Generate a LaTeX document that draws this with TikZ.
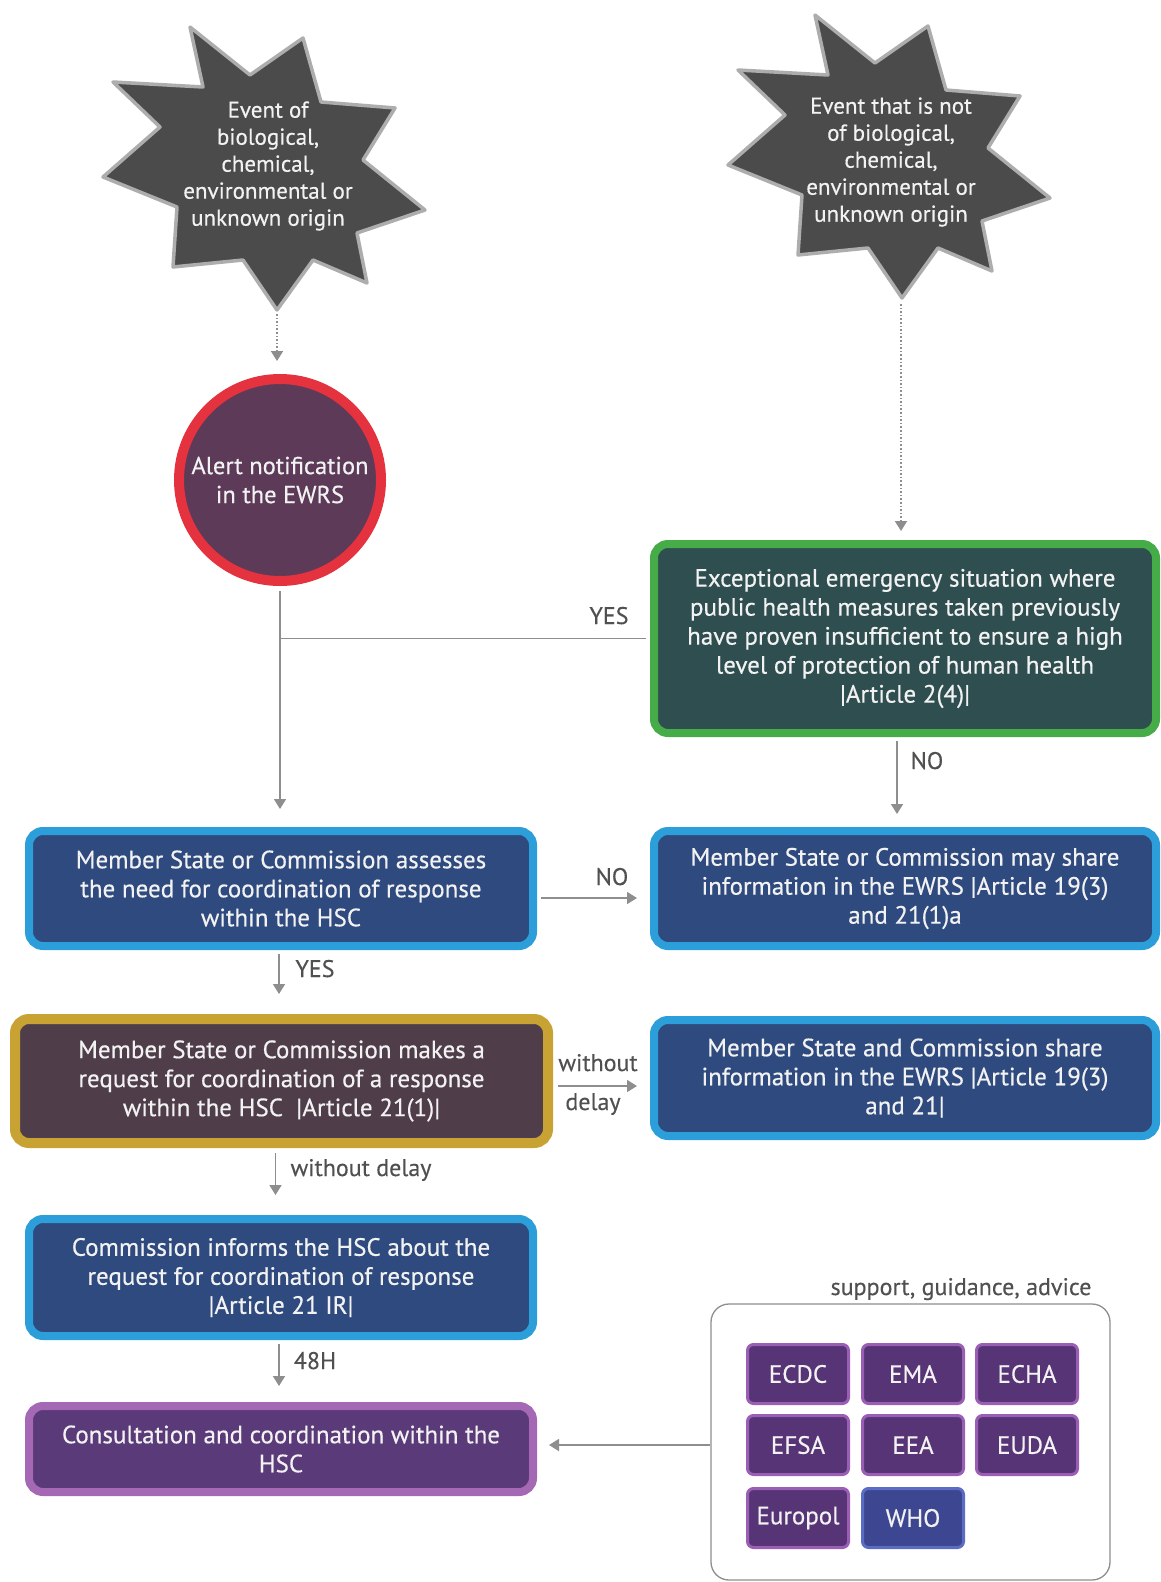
\documentclass[tikz,border=0pt]{standalone}
\usepackage{fontspec}
\setmainfont{PT Sans}
\newfontfamily\boxfont{PT Sans}[FakeBold=0.45]
\newfontfamily\lblfont{PT Sans}[FakeBold=0.25]
\usetikzlibrary{arrows.meta,calc}

\definecolor{starfill}{HTML}{4B4B4B}
\definecolor{starline}{HTML}{ADADAD}
\definecolor{circfill}{HTML}{5C3A58}
\definecolor{circline}{HTML}{E4323E}
\definecolor{grnfill}{HTML}{2F4E50}
\definecolor{grnline}{HTML}{45AC48}
\definecolor{bluefill}{HTML}{2F4A7E}
\definecolor{blueline}{HTML}{2C9FDA}
\definecolor{goldfill}{HTML}{4F3E4A}
\definecolor{goldline}{HTML}{C8A233}
\definecolor{purpfill}{HTML}{5A3A78}
\definecolor{purpline}{HTML}{A468B5}
\definecolor{agfill}{HTML}{573476}
\definecolor{agline}{HTML}{9A5FB5}
\definecolor{whofill}{HTML}{3D4690}
\definecolor{wholine}{HTML}{5A6CC4}
\definecolor{conncol}{HTML}{8E8E8E}
\definecolor{lblcol}{HTML}{505050}
\definecolor{txtcol}{HTML}{F2F2F2}

\tikzset{
  flowbox/.style={rounded corners=14pt, line width=8pt, align=center,
    text=txtcol, inner sep=0pt, font=\boxfont\fontsize{25}{29}\selectfont},
  bluebox/.style={flowbox, draw=blueline, fill=bluefill},
  greenbox/.style={flowbox, draw=grnline, fill=grnfill},
  goldbox/.style={flowbox, line width=10pt, draw=goldline, fill=goldfill},
  purplebox/.style={flowbox, draw=purpline, fill=purpfill},
  agency/.style={rounded corners=6pt, line width=3pt, draw=agline, fill=agfill,
    text=txtcol, minimum width=101pt, minimum height=59pt, inner sep=0pt,
    font=\boxfont\fontsize{25}{29}\selectfont},
  burst/.style={draw=starline, fill=starfill, line width=3.5pt, line join=round},
  bursttext/.style={align=center, text=txtcol, font=\boxfont\fontsize{23}{27}\selectfont},
  lbl/.style={text=lblcol, font=\lblfont\fontsize{24}{28}\selectfont, inner sep=0pt},
  conn/.style={draw=conncol, line width=1.6pt},
  arr/.style={conn, -{Triangle[width=12pt,length=10pt]}},
  dotarr/.style={arr, dotted, line width=1.8pt},
}

% nine-pointed burst outline around the origin (pixels, y downwards)
\newcommand\burstpath{(-75,-143) -- (-15,-95) -- (38,-132) -- (56,-68) -- (130,-62)
  -- (98,-10) -- (160,40) -- (92,63) -- (102,113) -- (48,90) -- (12,140)
  -- (-22,90) -- (-92,97) -- (-88,37) -- (-162,7) -- (-105,-43) -- (-152,-88)
  -- (-62,-83) -- cycle}

\begin{document}
\begin{tikzpicture}[x=1pt,y=-1pt]
\useasboundingbox[fill=white] (0,0) rectangle (1161,1582);

% event bursts
\begin{scope}[shift={(265,170)}]
  \draw[burst] \burstpath;
\end{scope}
\begin{scope}[shift={(890,158)}]
  \draw[burst] \burstpath;
\end{scope}
\node[bursttext] (ev1) at (268,166) {Event of\\biological,\\chemical,\\environmental or\\unknown origin};
\node[bursttext] (ev2) at (891,162) {Event that is not\\of biological,\\chemical,\\environmental or\\unknown origin};
\coordinate (ev1tip) at (277,310);
\coordinate (ev2tip) at (901,300);

% alert circle
\node[circle, draw=circline, fill=circfill, line width=10pt, minimum size=202pt,
      inner sep=0pt, align=center, text=txtcol, font=\boxfont\fontsize{24.5}{29}\selectfont]
      (alert) at (280,480) {Alert notification\\in the EWRS};

% flow boxes
\node[greenbox, minimum width=502pt, minimum height=189pt] (excep) at (905,638.5)
  {Exceptional emergency situation where\\public health measures taken previously\\have proven insufficient to ensure a high\\level of protection of human health\\|Article 2(4)|};

\node[bluebox, minimum width=504pt, minimum height=115pt] (assess) at (281,888.5)
  {Member State or Commission assesses\\the need for coordination of response\\within the HSC};
\node[bluebox, minimum width=502pt, minimum height=115pt] (mayshare) at (905,888.5)
  {Member State or Commission may share\\information in the EWRS |Article 19(3)\\and 21(1)a};

\node[goldbox, minimum width=533pt, minimum height=124pt] (request) at (281.5,1081)
  {Member State or Commission makes a\\request for coordination of a response\\within the HSC\ \ |Article 21(1)|};
\node[bluebox, minimum width=502pt, minimum height=116pt] (share) at (905,1078)
  {Member State and Commission share\\information in the EWRS |Article 19(3)\\and 21|};

\node[bluebox, minimum width=504pt, minimum height=117pt] (informs) at (281,1277.5)
  {Commission informs the HSC about the\\request for coordination of response\\|Article 21 IR|};

\node[purplebox, minimum width=504pt, minimum height=86pt] (consult) at (281,1449)
  {Consultation and coordination within the\\HSC};

% supporting agencies
\node[draw=conncol, line width=1.3pt, rounded corners=18pt,
      minimum width=399pt, minimum height=276pt, inner sep=0pt] (agencies) at (910.5,1442) {};
\node[lbl, anchor=base] (suplbl) at (961,1295) {support, guidance, advice};

\node[agency] (ecdc) at (798,1374) {ECDC};
\node[agency] (ema) at (913,1374) {EMA};
\node[agency] (echa) at (1027,1374) {ECHA};
\node[agency] (efsa) at (798,1445) {EFSA};
\node[agency] (eea) at (913,1445) {EEA};
\node[agency] (euda) at (1027,1445) {EUDA};
\node[agency] (europol) at (798,1518) {Europol};
\node[agency, draw=wholine, fill=whofill] (who) at (913,1518) {WHO};

% connectors
\draw[dotarr, shorten <=4pt, shorten >=13pt] (ev1tip) -- (ev1tip |- alert.north);
\draw[dotarr, shorten <=4pt, shorten >=9pt] (ev2tip) -- (ev2tip |- excep.north);

\draw[arr, shorten <=5pt, shorten >=18pt] (alert.south) -- (alert.south |- assess.north);
\draw[conn, shorten <=4pt] (excep.west) -- (excep.west -| alert.south);
\node[lbl, anchor=base] (yes1) at (609,624) {YES};

\draw[arr, shorten <=4pt, shorten >=13pt] ([xshift=-8pt]excep.south) -- ([xshift=-8pt]excep.south |- mayshare.north);
\node[lbl, anchor=base] (no1) at (927,769) {NO};

\draw[arr, shorten <=4pt, shorten >=13pt] (assess.east |- 0,898) -- (mayshare.west |- 0,898);
\node[lbl, anchor=base] (no2) at (612,885) {NO};

\draw[arr, shorten <=4pt, shorten >=20pt] ([xshift=-2pt]assess.south) -- ([xshift=-2pt]assess.south |- request.north);
\node[lbl, anchor=base] (yes2) at (315,977) {YES};

\draw[arr, shorten <=5pt, shorten >=13pt] (request.east |- 0,1086) -- (share.west |- 0,1086);
\node[lbl, anchor=base] (wd1) at (598,1071) {without};
\node[lbl, anchor=base] (wd2) at (593,1110) {delay};

\draw[arr, shorten <=5pt, shorten >=20pt] ([xshift=-6pt]request.south) -- ([xshift=-6pt]request.south |- informs.north);
\node[lbl, anchor=base] (wd3) at (361,1176) {without delay};

\draw[arr, shorten <=4pt, shorten >=16pt] ([xshift=-2pt]informs.south) -- ([xshift=-2pt]informs.south |- consult.north);
\node[lbl, anchor=base] (h48) at (315,1369) {48H};

\draw[arr, shorten >=12pt] (agencies.west |- 0,1445) -- (consult.east |- 0,1445);

\end{tikzpicture}
\end{document}
